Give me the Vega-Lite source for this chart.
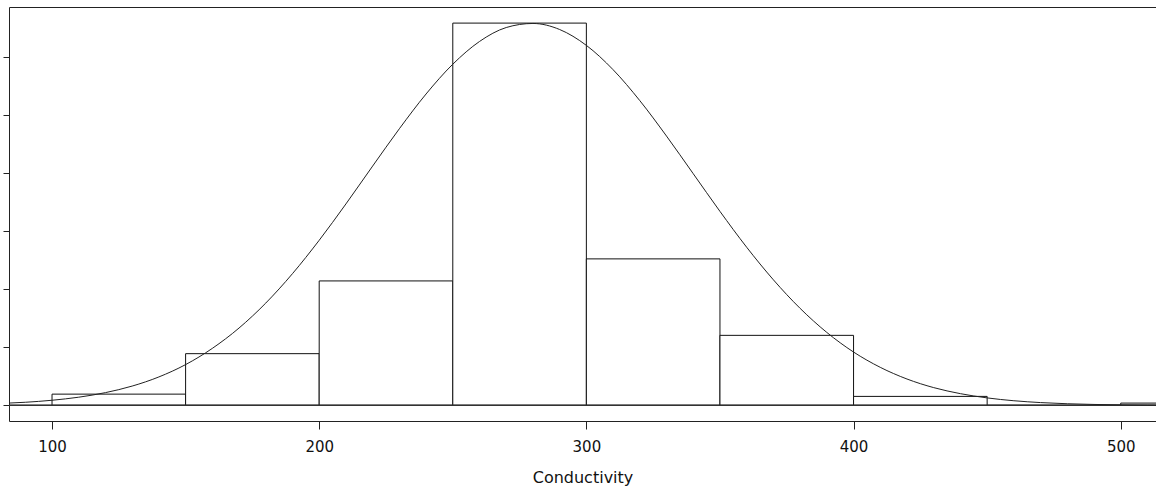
{
  "$schema": "https://vega.github.io/schema/vega-lite/v6.json",
  "width": 1147,
  "height": 414,
  "autosize": {"type": "none"},
  "padding": {"left": 9, "top": 7, "right": 0, "bottom": 66},
  "background": "white",
  "config": {
    "view": {"stroke": null},
    "axis": {
      "domainColor": "#222222",
      "domainWidth": 1,
      "tickColor": "#222222",
      "tickWidth": 1,
      "grid": false,
      "labelFont": "DejaVu Sans",
      "labelFontSize": 15,
      "labelColor": "#111111",
      "titleFont": "DejaVu Sans",
      "titleFontSize": 16,
      "titleFontWeight": "normal",
      "titleColor": "#111111"
    }
  },
  "datasets": {
    "bins": [
      {"lo": 100, "hi": 150, "density": 0.000194},
      {"lo": 150, "hi": 200, "density": 0.000890},
      {"lo": 200, "hi": 250, "density": 0.002141},
      {"lo": 250, "hi": 300, "density": 0.006575},
      {"lo": 300, "hi": 350, "density": 0.002520},
      {"lo": 350, "hi": 400, "density": 0.001205},
      {"lo": 400, "hi": 450, "density": 0.000155},
      {"lo": 450, "hi": 500, "density": 0.0},
      {"lo": 500, "hi": 550, "density": 0.00004}
    ],
    "curve": [
      {"x": 80, "d": 0.0000321},
      {"x": 90, "d": 0.0000540},
      {"x": 100, "d": 0.0000887},
      {"x": 110, "d": 0.0001414},
      {"x": 120, "d": 0.0002200},
      {"x": 130, "d": 0.0003326},
      {"x": 140, "d": 0.0004899},
      {"x": 150, "d": 0.000702},
      {"x": 160, "d": 0.000981},
      {"x": 170, "d": 0.001331},
      {"x": 180, "d": 0.001760},
      {"x": 190, "d": 0.002266},
      {"x": 200, "d": 0.002840},
      {"x": 210, "d": 0.003465},
      {"x": 220, "d": 0.004116},
      {"x": 230, "d": 0.004758},
      {"x": 240, "d": 0.005356},
      {"x": 250, "d": 0.005868},
      {"x": 260, "d": 0.006259},
      {"x": 270, "d": 0.006499},
      {"x": 280, "d": 0.006569},
      {"x": 290, "d": 0.006465},
      {"x": 300, "d": 0.006192},
      {"x": 310, "d": 0.005774},
      {"x": 320, "d": 0.005242},
      {"x": 330, "d": 0.004632},
      {"x": 340, "d": 0.003985},
      {"x": 350, "d": 0.003337},
      {"x": 360, "d": 0.002720},
      {"x": 370, "d": 0.002160},
      {"x": 380, "d": 0.001669},
      {"x": 390, "d": 0.001255},
      {"x": 400, "d": 0.000918},
      {"x": 410, "d": 0.000655},
      {"x": 420, "d": 0.000454},
      {"x": 430, "d": 0.000306},
      {"x": 440, "d": 0.000202},
      {"x": 450, "d": 0.0001292},
      {"x": 460, "d": 0.0000805},
      {"x": 470, "d": 0.0000488},
      {"x": 480, "d": 0.0000288},
      {"x": 490, "d": 0.0000166},
      {"x": 500, "d": 0.0000092},
      {"x": 510, "d": 0.0000050},
      {"x": 520, "d": 0.0000027}
    ]
  },
  "resolve": {"axis": {"x": "independent"}},
  "layer": [
    {
      "data": {"name": "bins"},
      "mark": {"type": "rect", "fill": "white", "stroke": "#111111", "strokeWidth": 1, "clip": true},
      "encoding": {
        "x": {
          "field": "lo", "type": "quantitative",
          "scale": {"domain": [83.9, 513.2], "nice": false, "zero": false},
          "axis": {
            "orient": "bottom",
            "values": [100, 200, 300, 400, 500],
            "tickSize": 8,
            "labelPadding": 10,
            "title": "Conductivity",
            "titlePadding": 15
          }
        },
        "x2": {"field": "hi"},
        "y": {
          "field": "density", "type": "quantitative",
          "scale": {"domain": [-0.000268, 0.006852], "nice": false, "zero": false},
          "axis": {
            "orient": "left",
            "values": [0, 0.001, 0.002, 0.003, 0.004, 0.005, 0.006],
            "tickSize": 6,
            "labels": false,
            "title": null
          }
        },
        "y2": {"datum": 0}
      }
    },
    {
      "data": {"name": "bins"},
      "mark": {"type": "rule", "color": "#333333", "strokeWidth": 1},
      "encoding": {"y": {"datum": 0, "type": "quantitative", "title": null}}
    },
    {
      "data": {"name": "curve"},
      "mark": {"type": "line", "color": "#222222", "strokeWidth": 1, "interpolate": "monotone", "clip": true},
      "encoding": {
        "x": {
          "field": "x", "type": "quantitative",
          "axis": {"orient": "top", "labels": false, "ticks": false, "title": null, "domain": true}
        },
        "y": {"field": "d", "type": "quantitative", "title": null}
      }
    }
  ]
}
